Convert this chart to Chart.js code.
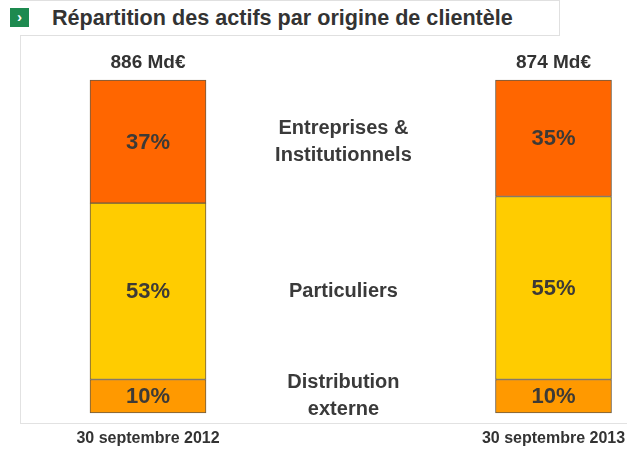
<!DOCTYPE html>
<html>
<head>
<meta charset="utf-8">
<script src="https://cdn.jsdelivr.net/npm/chart.js@4.4.1/dist/chart.umd.min.js"></script>
<style>
  html, body { margin: 0; padding: 0; background: #fff; }
  body { width: 627px; height: 453px; position: relative; overflow: hidden; font-family: "Liberation Sans", Arial, sans-serif; }
  #frameV { position: absolute; left: 20px; top: 0; width: 1px; height: 424px; background: #e2e2e2; }
  #frameH { position: absolute; left: 20px; top: 423px; width: 607px; height: 1px; background: #e2e2e2; }
  #titleBox { position: absolute; left: 20px; top: 0; width: 540px; height: 36px; border: 1px solid #e0e0e0; border-left: none; box-sizing: border-box; background: #fff; }
  #title { position: absolute; left: 52px; top: 5px; font: bold 21.6px "Liberation Sans", Arial, sans-serif; color: #333; white-space: nowrap; }
  #icon { position: absolute; left: 10px; top: 8px; width: 19px; height: 19px; background: #1d8a4f; color: #fff; font: bold 15px "Liberation Sans", Arial, sans-serif; text-align: center; line-height: 18px; }
  #wrap { position: absolute; left: 0; top: 0; width: 627px; height: 453px; }
</style>
</head>
<body>
<div id="frameV"></div>
<div id="frameH"></div>
<div id="titleBox"></div>
<div id="icon">›</div>
<div id="title">Répartition des actifs par origine de clientèle</div>
<div id="wrap"><canvas id="c" width="627" height="453"></canvas></div>
<script>
// ---- data ----
const categories = ['30 septembre 2012', '30 septembre 2013'];
const totals = ['886 Md€', '874 Md€'];
const seriesNames = ['Distribution externe', 'Particuliers', 'Entreprises & Institutionnels'];
const seriesLabelLines = [['Distribution', 'externe'], ['Particuliers'], ['Entreprises &', 'Institutionnels']];
const distributionExterne = [10, 10];
const particuliers = [53, 55];
const entreprises = [37, 35];
const seriesColors = ['#FF9900', '#FFCC00', '#FF6600'];

const overlay = {
  id: 'overlay',
  afterDatasetsDraw(chart) {
    const ctx = chart.ctx;
    ctx.save();
    ctx.textAlign = 'center';
    ctx.textBaseline = 'middle';
    // percentages inside bars
    ctx.fillStyle = '#3d3a36';
    ctx.font = 'bold 22px "Liberation Sans", Arial, sans-serif';
    chart.data.datasets.forEach((ds, di) => {
      const meta = chart.getDatasetMeta(di);
      meta.data.forEach((bar, i) => {
        const p = bar.getProps(['x', 'y', 'base'], true);
        ctx.fillText(ds.data[i] + '%', p.x, (p.y + p.base) / 2 + 1);
      });
    });
    // totals above bars
    const topMeta = chart.getDatasetMeta(chart.data.datasets.length - 1);
    ctx.fillStyle = '#333';
    ctx.font = 'bold 19px "Liberation Sans", Arial, sans-serif';
    topMeta.data.forEach((bar, i) => {
      const p = bar.getProps(['x', 'y'], true);
      ctx.fillText(totals[i], p.x, p.y - 17);
    });
    // series labels in the middle
    const xs = chart.scales.x;
    const x0 = xs.getPixelForValue(0), x1 = xs.getPixelForValue(1);
    const mx = x0 + 0.482 * (x1 - x0);
    ctx.font = 'bold 20px "Liberation Sans", Arial, sans-serif';
    ctx.fillStyle = '#3a3a3a';
    chart.data.datasets.forEach((ds, di) => {
      const bar = chart.getDatasetMeta(di).data[0];
      const p = bar.getProps(['y', 'base'], true);
      const cy = (p.y + p.base) / 2;
      const lines = seriesLabelLines[di];
      const lh = 27;
      const start = cy - (lines.length - 1) * lh / 2;
      lines.forEach((t, k) => ctx.fillText(t, mx, start + k * lh));
    });
    ctx.restore();
  }
};

new Chart(document.getElementById('c'), {
  type: 'bar',
  data: {
    labels: categories,
    datasets: [
      { label: seriesNames[0], data: distributionExterne, backgroundColor: seriesColors[0] },
      { label: seriesNames[1], data: particuliers, backgroundColor: seriesColors[1] },
      { label: seriesNames[2], data: entreprises, backgroundColor: seriesColors[2] }
    ]
  },
  options: {
    responsive: false,
    animation: false,
    devicePixelRatio: 1,
    layout: { padding: { left: 148, right: 73.5, top: 80, bottom: -11 } },
    datasets: { bar: { barThickness: 116, borderWidth: 1, borderColor: '#6b5b45', borderSkipped: false, clip: false } },
    plugins: { legend: { display: false }, tooltip: { enabled: false }, title: { display: false } },
    scales: {
      x: {
        stacked: true,
        offset: false,
        grid: { display: false, drawTicks: false, offset: false },
        border: { display: false },
        ticks: { color: '#333', font: { family: '"Liberation Sans", Arial, sans-serif', size: 16, weight: 'bold' }, padding: 16, maxRotation: 0, autoSkip: false },
        afterFit(scale) { scale.paddingLeft = 0; scale.paddingRight = 0; }
      },
      y: { stacked: true, display: false, min: 0, max: 100 }
    }
  },
  plugins: [overlay]
});
</script>
</body>
</html>
